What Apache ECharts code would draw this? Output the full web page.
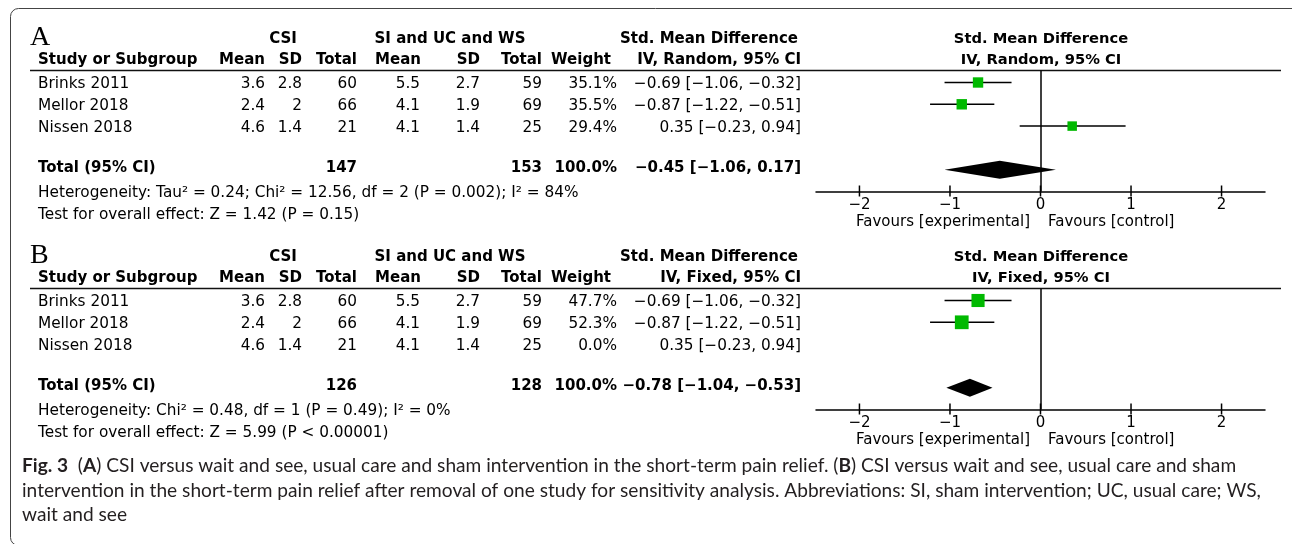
<!DOCTYPE html>
<html>
<head>
<meta charset="utf-8">
<script src="https://cdn.jsdelivr.net/npm/echarts@6/dist/echarts.min.js"></script>
<style>
html,body{margin:0;padding:0;background:#fff;}
#chart{width:1292px;height:544px;}
</style>
</head>
<body>
<div id="chart"></div>
<script>
// ---------------- DATA ----------------
const studies   = ['Brinks 2011', 'Mellor 2018', 'Nissen 2018'];
const csiMean   = [3.6, 2.4, 4.6];
const csiSD     = [2.8, 2, 1.4];
const csiTotal  = [60, 66, 21];
const ctlMean   = [5.5, 4.1, 4.1];
const ctlSD     = [2.7, 1.9, 1.4];
const ctlTotal  = [59, 69, 25];
const smd       = [-0.69, -0.87, 0.35];
const ciLow     = [-1.06, -1.22, -0.23];
const ciHigh    = [-0.32, -0.51, 0.94];
const weightA   = [35.1, 35.5, 29.4];
const weightB   = [47.7, 52.3, 0.0];
const pooledA   = [-0.45, -1.06, 0.17];
const pooledB   = [-0.78, -1.04, -0.53];
const totalsA   = [147, 153];
const totalsB   = [126, 128];
const axisTicks = [-2, -1, 0, 1, 2];
const hetA  = 'Heterogeneity: Tau² = 0.24; Chi² = 12.56, df = 2 (P = 0.002); I² = 84%';
const testA = 'Test for overall effect: Z = 1.42 (P = 0.15)';
const hetB  = 'Heterogeneity: Chi² = 0.48, df = 1 (P = 0.49); I² = 0%';
const testB = 'Test for overall effect: Z = 5.99 (P < 0.00001)';
const captionLines = [
  '{b|Fig. 3}  ({b|A}) CSI versus wait and see, usual care and sham intervention in the short-term pain relief. ({b|B}) CSI versus wait and see, usual care and sham',
  'intervention in the short-term pain relief after removal of one study for sensitivity analysis. Abbreviations: SI, sham intervention; UC, usual care; WS,',
  'wait and see'
];

// ---------------- HELPERS ----------------
const FONT = '"DejaVu Sans", Verdana, sans-serif';
const CAPFONT = 'Lato, "Open Sans", sans-serif';
const TS = 15.3;    // table regular font size
const TB = 15;      // table bold font size
const FS = 15;      // forest text size
const minus = s => String(s).replace(/-/g, '\u2212');
const f2 = v => minus(v.toFixed(2));
const ci = (e, l, h) => f2(e) + ' [' + f2(l) + ', ' + f2(h) + ']';

const ctx = document.createElement('canvas').getContext('2d');
function tw(font, s) { ctx.font = font; return ctx.measureText(s).width; }
const capSize = 16 * 1240 / tw('16px ' + CAPFONT, captionLines[1]);

function T(x, y, s, o) {
  o = o || {};
  return {
    type: 'text', x: x, y: y, silent: true,
    style: {
      text: s, fill: o.fill || '#000',
      fontSize: o.size || (o.bold ? TB : TS), fontFamily: o.family || FONT,
      fontWeight: o.bold ? 'bold' : 'normal',
      align: o.align || 'left', verticalAlign: 'middle',
      textAlign: o.align || 'left', textVerticalAlign: 'middle',
      rich: o.rich
    }
  };
}

// column right edges (layout)
const X = {study: 38, cMean: 265, cSD: 302, cTot: 357, kMean: 420, kSD: 480, kTot: 542, wt: 617, ci: 801};
const HDR = {cMean: 265, cSD: 302, cTot: 357, kMean: 421, kSD: 480, kTot: 542, wt: 611};

function panelGraphics(off, letter, model, weights, pooled, totals, het, test) {
  const g = [];
  const rowY = [84, 106, 128].map(v => v + off);
  g.push(T(30, 38 + off, letter, {size: 28, family: '"Liberation Serif", "DejaVu Serif", serif'}));
  g.push(T(283, 39 + off, 'CSI', {bold: true, align: 'center'}));
  g.push(T(450, 39 + off, 'SI and UC and WS', {bold: true, align: 'center'}));
  g.push(T(798, 39 + off, 'Std. Mean Difference', {bold: true, align: 'right'}));
  g.push(T(1041, 39 + off, 'Std. Mean Difference', {bold: true, align: 'center', size: 14.7}));
  const h2 = 60 + off;
  g.push(T(X.study, h2, 'Study or Subgroup', {bold: true}));
  g.push(T(HDR.cMean, h2, 'Mean', {bold: true, align: 'right'}));
  g.push(T(HDR.cSD, h2, 'SD', {bold: true, align: 'right'}));
  g.push(T(HDR.cTot, h2, 'Total', {bold: true, align: 'right'}));
  g.push(T(HDR.kMean, h2, 'Mean', {bold: true, align: 'right'}));
  g.push(T(HDR.kSD, h2, 'SD', {bold: true, align: 'right'}));
  g.push(T(HDR.kTot, h2, 'Total', {bold: true, align: 'right'}));
  g.push(T(HDR.wt, h2, 'Weight', {bold: true, align: 'right'}));
  g.push(T(X.ci, h2, 'IV, ' + model + ', 95% CI', {bold: true, align: 'right'}));
  g.push(T(1041, h2, 'IV, ' + model + ', 95% CI', {bold: true, align: 'center', size: 14.7}));
  g.push({type: 'line', silent: true, shape: {x1: 30, y1: 70.5 + off, x2: 1281, y2: 70.5 + off},
          style: {stroke: '#111', lineWidth: 1.6}});
  studies.forEach((s, i) => {
    const y = rowY[i];
    g.push(T(X.study, y, s));
    g.push(T(X.cMean, y, minus(csiMean[i]), {align: 'right'}));
    g.push(T(X.cSD, y, minus(csiSD[i]), {align: 'right'}));
    g.push(T(X.cTot, y, String(csiTotal[i]), {align: 'right'}));
    g.push(T(X.kMean, y, minus(ctlMean[i]), {align: 'right'}));
    g.push(T(X.kSD, y, minus(ctlSD[i]), {align: 'right'}));
    g.push(T(X.kTot, y, String(ctlTotal[i]), {align: 'right'}));
    g.push(T(X.wt, y, weights[i].toFixed(1) + '%', {align: 'right'}));
    g.push(T(X.ci, y, ci(smd[i], ciLow[i], ciHigh[i]), {align: 'right'}));
  });
  const ty = 168 + off;
  g.push(T(X.study, ty, 'Total (95% CI)', {bold: true}));
  g.push(T(X.cTot, ty, String(totals[0]), {bold: true, align: 'right'}));
  g.push(T(X.kTot, ty, String(totals[1]), {bold: true, align: 'right'}));
  g.push(T(X.wt, ty, '100.0%', {bold: true, align: 'right'}));
  g.push(T(X.ci, ty, ci(pooled[0], pooled[1], pooled[2]), {bold: true, align: 'right'}));
  g.push(T(X.study, 193 + off, het));
  g.push(T(X.study, 215 + off, test));
  g.push(T(1030, 222 + off, 'Favours [experimental]', {size: FS, align: 'right'}));
  g.push(T(1048, 222 + off, 'Favours [control]', {size: FS}));
  return g;
}

let graphics = [];
graphics.push({type: 'rect', silent: true, shape: {x: 10.5, y: 8.5, width: 1290, height: 537, r: 8},
               style: {fill: 'none', stroke: '#444', lineWidth: 1}});
graphics = graphics.concat(panelGraphics(0, 'A', 'Random', weightA, pooledA, totalsA, hetA, testA));
graphics = graphics.concat(panelGraphics(218, 'B', 'Fixed', weightB, pooledB, totalsB, hetB, testB));
captionLines.forEach((l, i) => {
  graphics.push(T(22, 466 + i * 24.5, l, {size: capSize, family: CAPFONT, fill: '#231f20',
    rich: {b: {fontWeight: 'bold', fontSize: capSize, fontFamily: CAPFONT, fill: '#231f20'}}}));
});

// ---------------- FOREST PLOTS ----------------
const XMIN = -2.48, XMAX = 2.48;
const YMIN = -0.55, YMAX = 5;
const grids = [
  {left: 816, right: 27, top: 70.5, height: 121},
  {left: 816, right: 27, top: 288.5, height: 121}
];
function xAxis(gi) {
  return {gridIndex: gi, type: 'value', position: 'bottom', min: XMIN, max: XMAX, splitLine: {show: false},
     axisLine: {show: true, onZero: false, lineStyle: {color: '#000', width: 1.5}},
     axisTick: {show: false},
     axisLabel: {show: true, customValues: axisTicks, margin: 6, color: '#000', fontSize: FS, fontFamily: FONT,
                 formatter: v => minus(v)}};
}
const yAxes = [0, 1].map(gi => ({gridIndex: gi, type: 'value', min: YMIN, max: YMAX, inverse: true, show: false}));

function seriesFor(gi, weights, pooled, k) {
  const rows = studies.map((s, i) => i).filter(i => weights[i] > 0);
  return [
    // axis ticks crossing the axis line
    {type: 'custom', xAxisIndex: gi, yAxisIndex: gi, silent: true, clip: false,
     data: axisTicks.map(v => [v, YMAX]),
     renderItem: (p, api) => {
       const c = api.coord([api.value(0), api.value(1)]);
       return {type: 'line', shape: {x1: c[0], y1: c[1] - 6, x2: c[0], y2: c[1] + 5},
               style: {stroke: '#000', lineWidth: 1.5}};
     }},
    // confidence intervals + zero line
    {type: 'custom', xAxisIndex: gi, yAxisIndex: gi, silent: true,
     data: rows.map(i => [ciLow[i], ciHigh[i], i]),
     renderItem: (p, api) => {
       const a = api.coord([api.value(0), api.value(2)]);
       const b = api.coord([api.value(1), api.value(2)]);
       return {type: 'line', shape: {x1: a[0], y1: a[1], x2: b[0], y2: b[1]},
               style: {stroke: '#000', lineWidth: 1.5}};
     },
     markLine: {silent: true, symbol: ['none', 'none'], label: {show: false},
                lineStyle: {color: '#000', width: 1.5, type: 'solid'}, data: [{xAxis: 0}]}},
    // weighted squares
    {type: 'scatter', xAxisIndex: gi, yAxisIndex: gi, silent: true, symbol: 'rect',
     itemStyle: {color: '#00b900', opacity: 1},
     data: rows.map(i => ({value: [smd[i], i], symbolSize: k * Math.sqrt(weights[i])}))},
    // pooled diamond
    {type: 'custom', xAxisIndex: gi, yAxisIndex: gi, silent: true,
     data: [[pooled[0], pooled[1], pooled[2], 4]],
     renderItem: (p, api) => {
       const r = api.value(3);
       const c = api.coord([api.value(0), r]);
       const l = api.coord([api.value(1), r]);
       const h = api.coord([api.value(2), r]);
       const d = 9;
       return {type: 'polygon', shape: {points: [[l[0], l[1]], [c[0], c[1] - d], [h[0], h[1]], [c[0], c[1] + d]]},
               style: {fill: '#000'}};
     }}
  ];
}

const chart = echarts.init(document.getElementById('chart'), null, {renderer: 'canvas'});
chart.setOption({
  animation: false,
  backgroundColor: '#fff',
  grid: grids,
  xAxis: [xAxis(0), xAxis(1)],
  yAxis: yAxes,
  series: seriesFor(0, weightA, pooledA, 1.75).concat(seriesFor(1, weightB, pooledB, 1.9)),
  graphic: {elements: graphics}
});
</script>
</body>
</html>
